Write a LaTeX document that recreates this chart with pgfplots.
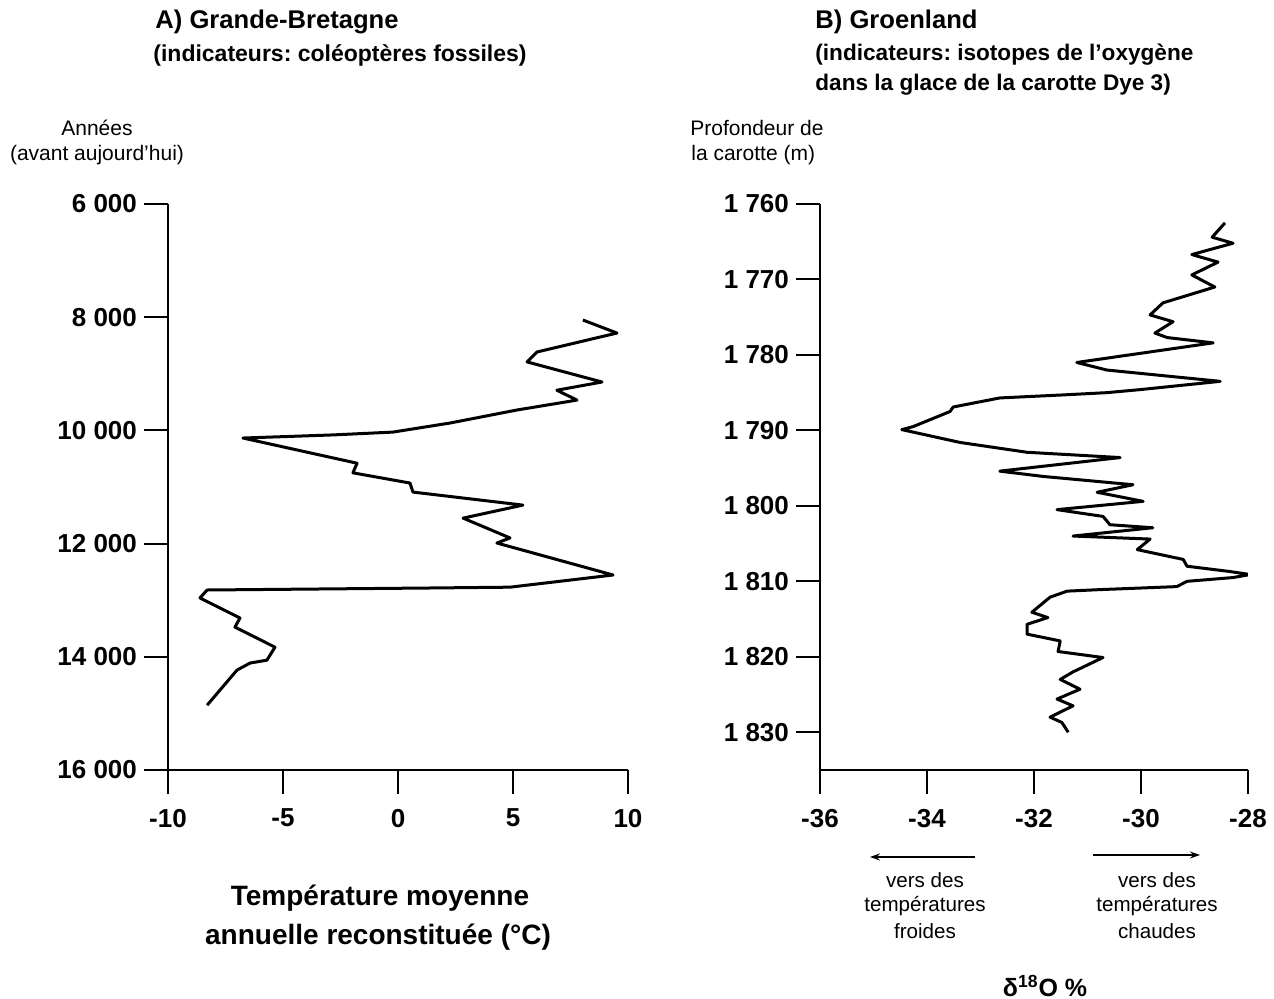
\documentclass[border=0pt]{standalone}
\usepackage{fontspec}
\setmainfont{Liberation Sans}
\usepackage{pgfplots}
\pgfplotsset{compat=1.18}
\usetikzlibrary{arrows.meta}
\frenchspacing

\pgfplotstableread{
T Y
8.04 8050
9.52 8280
6.04 8615
5.61 8790
8.87 9145
6.91 9290
7.78 9465
5.17 9640
2.26 9870
-0.22 10030
-2.83 10080
-6.74 10135
-1.78 10580
-1.96 10750
0.52 10930
0.65 11090
5.43 11320
2.83 11550
4.87 11900
4.30 11990
9.35 12555
4.87 12770
1.26 12785
-8.30 12820
-8.61 12960
-6.87 13315
-7.09 13475
-5.35 13830
-5.70 14060
-6.43 14110
-7.00 14235
-8.30 14855
}\gbtable

\pgfplotstableread{
D Z
-28.43 1762.5
-28.67 1764.4
-28.28 1765.2
-29.05 1766.7
-28.56 1767.7
-29.05 1769.4
-28.62 1771.0
-29.59 1773.1
-29.83 1774.7
-29.40 1775.6
-29.74 1777.1
-29.51 1777.7
-28.65 1778.4
-31.20 1781.0
-30.64 1782.0
-28.52 1783.5
-30.02 1784.6
-30.64 1785.0
-31.46 1785.3
-32.64 1785.7
-33.51 1786.9
-33.57 1787.5
-34.26 1789.5
-34.47 1789.9
-33.38 1791.6
-32.13 1792.9
-30.39 1793.6
-32.64 1795.4
-31.83 1796.1
-30.15 1797.2
-30.82 1798.2
-29.96 1799.4
-31.57 1800.5
-30.71 1801.4
-30.58 1802.5
-29.78 1802.9
-31.27 1804.0
-29.83 1804.4
-30.07 1805.8
-29.21 1807.1
-29.14 1808.0
-28.34 1808.7
-27.96 1809.1
-28.28 1809.5
-29.14 1810.0
-29.33 1810.7
-30.77 1811.1
-31.38 1811.3
-31.70 1812.1
-32.04 1814.1
-31.74 1814.8
-32.13 1815.7
-32.13 1817.0
-31.51 1817.9
-31.55 1819.3
-30.71 1820.1
-31.27 1822.0
-31.51 1823.0
-31.14 1824.3
-31.57 1825.6
-31.27 1826.5
-31.70 1828.0
-31.48 1828.7
-31.36 1830.0
}\grtable

\pgfplotsset{
  myax/.style={
    scale only axis, enlargelimits=false,
    axis x line=bottom, axis y line=left,
    axis line style={line width=1pt, -},
    y dir=reverse,
    scaled x ticks=false, scaled y ticks=false,
    tick align=outside, major tick length=12pt,
    tick style={line width=1pt, black},
    tick label style={font=\bfseries\fontsize{13}{15}\selectfont},
    xticklabel style={yshift=-4pt},
    height=283pt,
    anchor=west,
  }
}

\begin{document}
\begin{tikzpicture}[x=1pt,y=1pt]
\useasboundingbox (0,0) rectangle (637,499.5);

\begin{axis}[myax, at={(84pt,256pt)}, width=230pt,
  xmin=-10, xmax=10, ymin=6000, ymax=16000,
  xtick={-10,-5,0,5,10}, xticklabels={-10,-5,0,5,10},
  ytick={6000,8000,10000,12000,14000,16000},
  yticklabels={6 000,8 000,10 000,12 000,14 000,16 000}]
\addplot[black, line width=1.5pt, line join=round] table[x=T,y=Y] {\gbtable};
\end{axis}

\begin{axis}[myax, at={(410pt,256pt)}, width=214pt,
  xmin=-36, xmax=-28, ymin=1760, ymax=1835,
  xtick={-36,-34,-32,-30,-28}, xticklabels={-36,-34,-32,-30,-28},
  ytick={1760,1770,1780,1790,1800,1810,1820,1830},
  yticklabels={1 760,1 770,1 780,1 790,1 800,1 810,1 820,1 830}]
\addplot[black, line width=1.5pt, line join=round] table[x=D,y=Z] {\grtable};
\end{axis}

% titles
\node[anchor=west, inner sep=0pt, font=\bfseries\fontsize{12.8}{14}\selectfont] at (77.5,488.5) {A) Grande-Bretagne};
\node[anchor=west, inner sep=0pt, font=\bfseries\fontsize{11.5}{13}\selectfont] at (76.5,472) {(indicateurs: coléoptères fossiles)};
\node[anchor=west, inner sep=0pt, font=\bfseries\fontsize{12.8}{14}\selectfont] at (407.5,488.5) {B) Groenland};
\node[anchor=west, inner sep=0pt, font=\bfseries\fontsize{11.3}{13}\selectfont] at (407.5,472) {(indicateurs: isotopes de l'oxygène};
\node[anchor=west, inner sep=0pt, font=\bfseries\fontsize{11.3}{13}\selectfont] at (407.5,457) {dans la glace de la carotte Dye 3)};

% y labels
\node[font=\fontsize{10.5}{12}\selectfont] at (48.5,435.5) {Années};
\node[font=\fontsize{10.5}{12}\selectfont] at (48.5,422) {(avant aujourd'hui)};
\node[anchor=west, inner sep=0pt, font=\fontsize{10.5}{12}\selectfont] at (345,435.5) {Profondeur de};
\node[anchor=west, inner sep=0pt, font=\fontsize{10.5}{12}\selectfont] at (345.5,422) {la carotte (m)};

% x labels
\node[font=\bfseries\fontsize{14}{16}\selectfont] at (190,50.5) {Température moyenne};
\node[font=\bfseries\fontsize{14}{16}\selectfont] at (189,31) {annuelle reconstituée (°C)};

\draw[-{Stealth[length=5pt,width=3.5pt]}, line width=0.6pt] (487.5,71) -- (435,71);
\draw[-{Stealth[length=5pt,width=3.5pt]}, line width=0.6pt] (546.5,72) -- (600,72);
\node[font=\fontsize{10.3}{12}\selectfont] at (462.5,59.5) {vers des};
\node[font=\fontsize{10.3}{12}\selectfont] at (462.5,46.5) {températures};
\node[font=\fontsize{10.3}{12}\selectfont] at (462.5,34) {froides};
\node[font=\fontsize{10.3}{12}\selectfont] at (578.5,59.5) {vers des};
\node[font=\fontsize{10.3}{12}\selectfont] at (578.5,46.5) {températures};
\node[font=\fontsize{10.3}{12}\selectfont] at (578.5,34) {chaudes};
\node[font=\bfseries\fontsize{12.5}{14}\selectfont] at (522.5,6.5) {δ\textsuperscript{18}O \%};
\end{tikzpicture}
\end{document}
